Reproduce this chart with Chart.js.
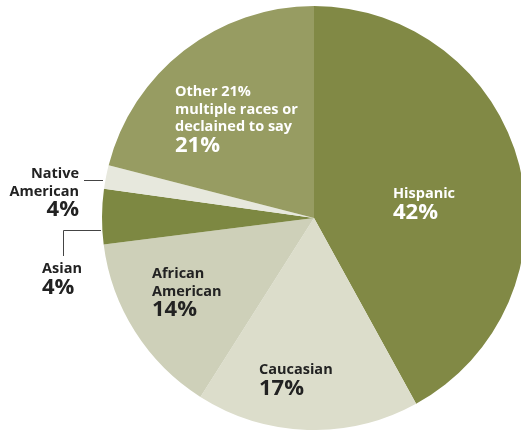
<!DOCTYPE html>
<html>
<head>
<meta charset="utf-8">
<script src="https://cdn.jsdelivr.net/npm/chart.js@4"></script>
<style>
  html, body { margin: 0; padding: 0; background: #fff; overflow: hidden; }
  #wrap { width: 521px; height: 430px; overflow: hidden; position: relative; }
  canvas { position: absolute; left: 0; top: 0; }
</style>
</head>
<body>
<div id="wrap"><canvas id="pieChart" width="628" height="430"></canvas></div>
<script>
const categories = ['Hispanic', 'Caucasian', 'African American', 'Asian', 'Native American', 'Other'];
// slice sizes as drawn in the picture (Native American is drawn smaller than its label says)
const shares = [42, 17, 14, 4.2, 1.8, 21];
const pctLabels = ['42%', '17%', '14%', '4%', '4%', '21%'];
const sliceColors = ['#818945', '#dcddcb', '#ced0b9', '#7d8842', '#e7e8dd', '#979c62'];

// label text blocks: lines, anchor point, alignment and colour
const labelBlocks = [
    { lines: ['Hispanic'], pct: 0, x: 393, y: 198, align: 'left', color: '#fff' },
    { lines: ['Caucasian'], pct: 1, x: 259, y: 374, align: 'left', color: '#222' },
    { lines: ['African', 'American'], pct: 2, x: 152, y: 278, align: 'left', color: '#222' },
    { lines: ['Asian'], pct: 3, x: 42, y: 273, align: 'left', color: '#222' },
    { lines: ['Native', 'American'], pct: 4, x: 79, y: 178, align: 'right', color: '#222' },
    { lines: ['Other 21%', 'multiple races or', 'declained to say'], pct: 5, x: 175, y: 96, align: 'left', color: '#fff' },
];

const labelPlugin = {
    id: 'sliceLabels',
    afterDraw(chart) {
        const ctx = chart.ctx;
        ctx.save();
        // leader lines
        ctx.strokeStyle = '#444';
        ctx.lineWidth = 1;
        ctx.beginPath();
        ctx.moveTo(84, 180.5); ctx.lineTo(103, 180.5);
        ctx.moveTo(63.5, 256); ctx.lineTo(63.5, 230.5); ctx.lineTo(101, 230.5);
        ctx.stroke();

        labelBlocks.forEach(b => {
            ctx.fillStyle = b.color;
            ctx.textAlign = b.align;
            ctx.textBaseline = 'alphabetic';
            ctx.font = 'bold 14.5px "Open Sans"';
            let y = b.y;
            b.lines.forEach(line => {
                ctx.fillText(line, b.x, y);
                y += 17.5;
            });
            ctx.font = 'bold 22px "Open Sans"';
            ctx.fillText(pctLabels[b.pct], b.x, y + 3);
        });
        ctx.restore();
    }
};

const pc = document.getElementById('pieChart');
if (pc) {
    new Chart(pc, {
        type: 'pie',
        data: {
            labels: categories,
            datasets: [{
                data: shares,
                backgroundColor: sliceColors,
                borderWidth: 0,
            }],
        },
        options: {
            responsive: false,
            animation: false,
            layout: { padding: { top: 6, bottom: 0 } },
            plugins: {
                legend: { display: false },
                tooltip: { enabled: false },
            },
        },
        plugins: [labelPlugin],
    });
}
</script>
</body>
</html>
